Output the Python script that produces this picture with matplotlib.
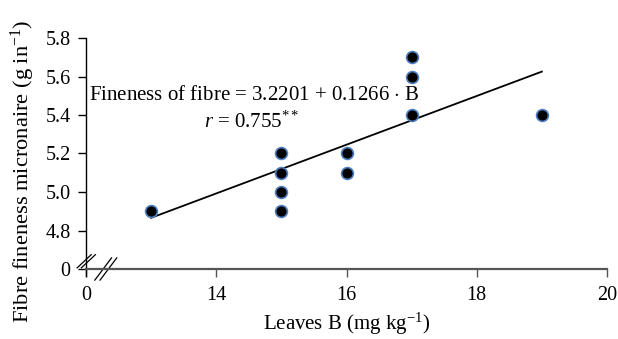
import matplotlib
matplotlib.use('Agg')
from matplotlib import pyplot as plt
import numpy as np

plt.rcParams['font.family'] = ['Liberation Serif', 'DejaVu Serif']
plt.rcParams['mathtext.fontset'] = 'custom'
plt.rcParams['mathtext.rm'] = 'Liberation Serif'
plt.rcParams['mathtext.it'] = 'Liberation Serif:italic'

# data (leaf B in mg/kg, micronaire)
leaves_b = [13, 15, 15, 15, 15, 16, 16, 17, 17, 17, 19]
micronaire = [4.9, 4.9, 5.0, 5.1, 5.2, 5.1, 5.2, 5.4, 5.6, 5.7, 5.4]
intercept = 3.2201
slope = 0.1266
x_ticks = [12, 14, 16, 18, 20]
x_tick_labels = ['0', '14', '16', '18', '20']
y_ticks = [4.6, 4.8, 5.0, 5.2, 5.4, 5.6, 5.8]
y_tick_labels = ['0', '4.8', '5.0', '5.2', '5.4', '5.6', '5.8']

fs = 15

fig = plt.figure(figsize=(6.18, 3.39), dpi=100)
ax = fig.add_axes([86 / 618, 1 - 269 / 339, 521 / 618, 231 / 339])

# regression line over the data range
line_x = np.array([min(leaves_b), max(leaves_b)])
ax.plot(line_x, intercept + slope * line_x, color='black', lw=1.3, zorder=2)
ax.plot(leaves_b, micronaire, 'o', ms=8.5, mfc='black', mec='#4f7fbf', mew=1.2,
        zorder=3, clip_on=False)

ax.set_xlim(12, 20)
ax.set_ylim(4.6, 5.8)
ax.set_xticks(x_ticks)
ax.set_xticklabels(x_tick_labels)
ax.set_yticks(y_ticks)
ax.set_yticklabels(y_tick_labels)
ax.tick_params(labelsize=14.5, length=6, width=1)
ax.tick_params(axis='x', color='#555555', pad=6)
ax.tick_params(axis='y', pad=5)

for s in ['top', 'right']:
    ax.spines[s].set_visible(False)
ax.spines['bottom'].set_color('#555555')
ax.spines['bottom'].set_linewidth(1.6)
ax.spines['left'].set_linewidth(1.0)
ax.spines['left'].set_bounds(4.565, 5.8)

# axis break marks
kw = dict(color='black', lw=0.9, clip_on=False, transform=ax.transAxes)
for dx in (-0.004, 0.004):
    ax.plot([-0.013 + dx, 0.014 + dx], [0.005, 0.062], **kw)
for dx in (-0.005, 0.005):
    ax.plot([0.022 + dx, 0.054 + dx], [-0.048, 0.048], **kw)

ax.text(12.05, 5.5, r'Fineness of fibre = 3.2201 + 0.1266 $\cdot$ B', fontsize=fs,
        ha='left', va='center')
ax.text(14.54, 5.36, r'$r$ = 0.755$^{**}$', fontsize=fs, ha='center', va='center')

ax.set_xlabel(r'Leaves B (mg kg$^{-1}$)', fontsize=fs)
ax.xaxis.set_label_coords(0.5, -(311 - 269) / 231)
ax.set_ylabel(r'Fibre fineness micronaire (g in$^{-1}$)', fontsize=16.2)
ax.yaxis.set_label_coords(-(86 - 37) / 521, (269 - 171) / 231)

fig.savefig('out.png', dpi=100)
